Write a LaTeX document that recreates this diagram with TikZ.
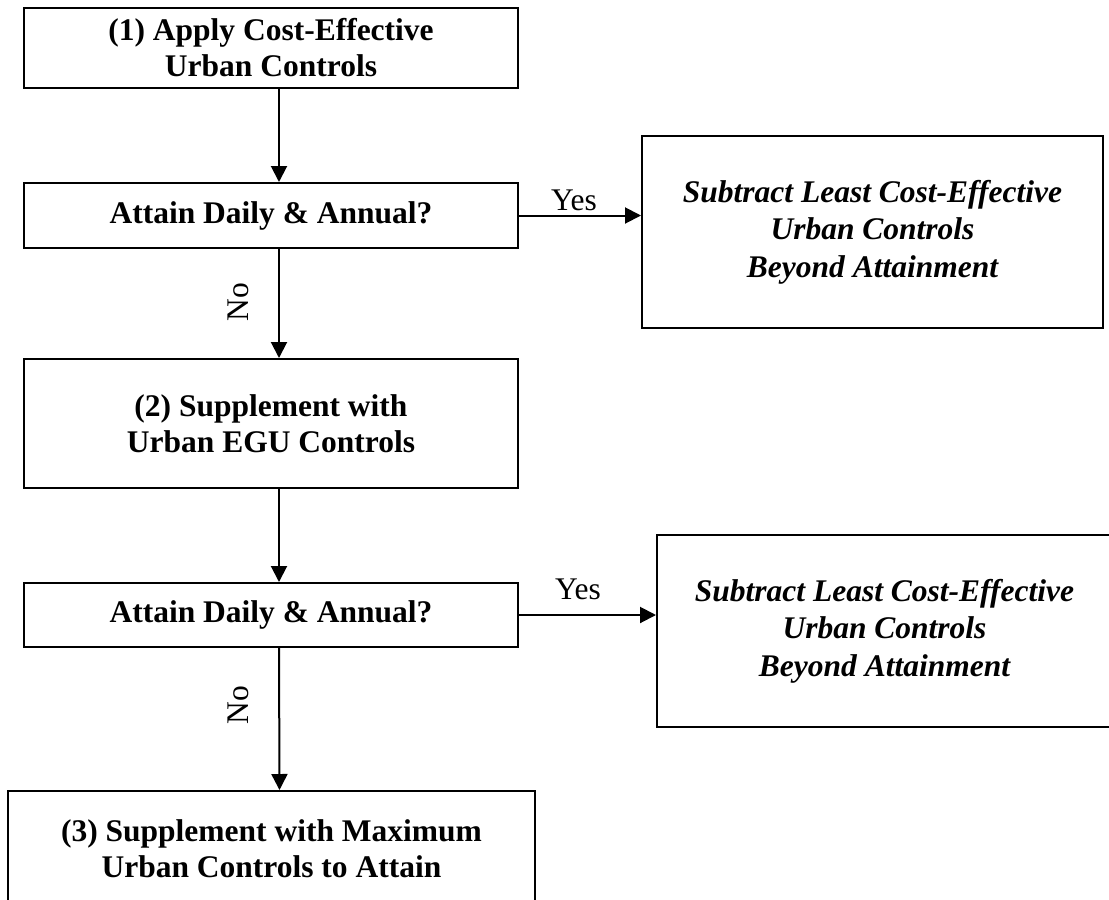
\documentclass[tikz,border=0pt]{standalone}
\usepackage{fontspec}
\setmainfont{Liberation Serif}
\usetikzlibrary{arrows.meta}
\begin{document}
\begin{tikzpicture}[x=1pt,y=-1pt,
  box/.style={draw, line width=2pt, inner sep=0pt, align=center,
    font=\fontsize{31.5}{36}\selectfont\bfseries},
  outbox/.style={box, font=\fontsize{31.5}{37.5}\selectfont\bfseries\itshape},
  arr/.style={line width=2pt, -{Triangle[length=16pt,width=16pt]}},
  lbl/.style={font=\fontsize{31.5}{36}\selectfont, inner sep=0pt}]
\useasboundingbox (0,0) rectangle (1109,900);
\clip (0,0) rectangle (1109,900);
% main column
\node[box, minimum width=494pt, minimum height=80pt] (b1) at (271,48)
  {(1) Apply Cost-Effective\\Urban Controls};
\node[box, minimum width=494pt, minimum height=65pt] (b2) at (271,215.5)
  {Attain Daily \& Annual?};
\node[box, minimum width=494pt, minimum height=129pt] (b3) at (271,423.5)
  {(2) Supplement with\\Urban EGU Controls};
\node[box, minimum width=494pt, minimum height=64pt] (b4) at (271,615)
  {Attain Daily \& Annual?};
\node[box, minimum width=527pt, minimum height=116pt] (b5) at (271.5,849)
  {(3) Supplement with Maximum\\Urban Controls to Attain};
% right boxes
\node[outbox, minimum width=461pt, minimum height=192pt] (r1) at (872.5,232)
  {Subtract Least Cost-Effective\\Urban Controls\\Beyond Attainment};
\node[outbox, minimum width=455pt, minimum height=192pt] (r2) at (884.5,631)
  {Subtract Least Cost-Effective\\Urban Controls\\Beyond Attainment};
% connectors
\draw[arr] ([xshift=8pt]b1.south) -- ([xshift=8pt]b2.north);
\draw[arr] ([xshift=8pt]b2.south) -- ([xshift=8pt]b3.north);
\draw[arr] ([xshift=8pt]b3.south) -- ([xshift=8pt]b4.north);
\draw[arr] ([xshift=8pt]b4.south) -- ([xshift=8pt]b5.north);
\draw[arr] (b2.east) -- (b2.east -| r1.west);
\draw[arr] (b4.east) -- (b4.east -| r2.west);
% labels
\node[lbl, anchor=base] (yes1) at (574,210) {Yes};
\node[lbl, anchor=base] (yes2) at (578,599) {Yes};
\node[lbl, rotate=90] (no1) at (238,302) {No};
\node[lbl, rotate=90] (no2) at (238,705) {No};
\end{tikzpicture}
\end{document}
